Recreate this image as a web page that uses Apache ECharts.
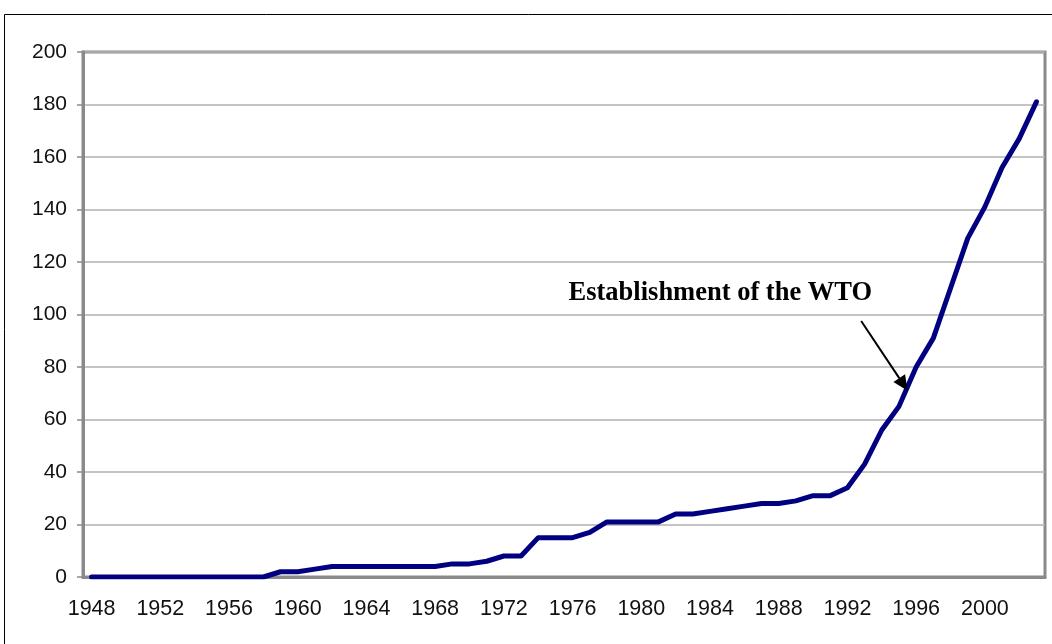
<!DOCTYPE html>
<html>
<head>
<meta charset="utf-8">
<script src="https://cdn.jsdelivr.net/npm/echarts@6/dist/echarts.min.js"></script>
<style>
html,body{margin:0;padding:0;background:#fff;}
#c{width:1052px;height:644px;}
</style>
</head>
<body>
<div id="c"></div>
<script>
var years = [];
for (var y = 1948; y <= 2003; y++) years.push(String(y));
var rtaCount = [
  0,0,0,0,0,0,0,0,0,0,0,      // 1948-1958
  2,2,3,4,4,4,4,4,4,4,        // 1959-1968
  5,5,6,8,8,15,15,15,17,21,   // 1969-1978
  21,21,21,24,24,25,26,27,28,28, // 1979-1988
  29,31,31,34,43,56,65,80,91,110, // 1989-1998
  129,141,156,167,181         // 1999-2003
];
var yTicks = {min: 0, max: 200, interval: 20};
var annotationText = 'Establishment of the WTO';
// arrow in data space: [category index, value]
var arrowFrom = [44.8, 97.5];
var arrowTo = [47.5, 71];
var textAnchor = [36.6, 108];

var chart = echarts.init(document.getElementById('c'));
chart.setOption({
  animation: false,
  backgroundColor: '#fff',
  grid: {left: 83, right: 7, top: 52, bottom: 67, show: true, borderColor: '#8a8a8a', borderWidth: 3, backgroundColor: 'transparent'},
  xAxis: {
    type: 'category',
    data: years,
    boundaryGap: true,
    axisLine: {lineStyle: {color: '#8a8a8a', width: 3}},
    axisTick: {interval: 3, length: 6, lineStyle: {color: '#8a8a8a', width: 1.5}},
    axisLabel: {interval: 3, margin: 21, color: '#111', fontSize: 21.5, fontFamily: 'Liberation Sans'},
    splitLine: {show: false}
  },
  yAxis: {
    type: 'value',
    min: yTicks.min, max: yTicks.max, interval: yTicks.interval,
    axisLine: {show: true, lineStyle: {color: '#8a8a8a', width: 3}},
    axisTick: {show: true, length: 6, lineStyle: {color: '#8a8a8a', width: 1.5}},
    axisLabel: {margin: 16, color: '#111', fontSize: 21, fontFamily: 'Liberation Sans'},
    splitLine: {lineStyle: {color: '#b0b0b0', width: 1.5}}
  },
  series: [{
    type: 'line',
    data: rtaCount,
    symbol: 'none',
    lineStyle: {color: '#000080', width: 5, join: 'round', cap: 'round'},
    z: 3
  }]
});

function px(p) {
  var i0 = Math.floor(p[0]);
  var a = chart.convertToPixel({xAxisIndex: 0, yAxisIndex: 0}, [i0, p[1]]);
  var b = chart.convertToPixel({xAxisIndex: 0, yAxisIndex: 0}, [i0 + 1, p[1]]);
  var f = p[0] - i0;
  return [a[0] + (b[0] - a[0]) * f, a[1]];
}
var s = px(arrowFrom), e = px(arrowTo), t = px(textAnchor);
var ang = Math.atan2(e[1] - s[1], e[0] - s[0]);
var hl = 15, hw = 7;
var bx = e[0] - hl * Math.cos(ang), by = e[1] - hl * Math.sin(ang);
var nx = -Math.sin(ang), ny = Math.cos(ang);
chart.setOption({
  graphic: [
    {type: 'rect', shape: {x: 4.5, y: 14.5, width: 1200, height: 800}, style: {fill: 'none', stroke: '#000', lineWidth: 1}, silent: true, z: 100},
    {type: 'line', shape: {x1: s[0], y1: s[1], x2: bx, y2: by}, style: {stroke: '#000', lineWidth: 2}, z: 100},
    {type: 'polygon', shape: {points: [[e[0], e[1]], [bx + nx * hw, by + ny * hw], [bx - nx * hw, by - ny * hw]]}, style: {fill: '#000'}, z: 100},
    {type: 'text', x: t[0], y: t[1], style: {text: annotationText, font: 'bold 26.5px "Liberation Serif"', fill: '#000', textAlign: 'center', textVerticalAlign: 'middle'}, z: 100}
  ]
});
</script>
</body>
</html>
